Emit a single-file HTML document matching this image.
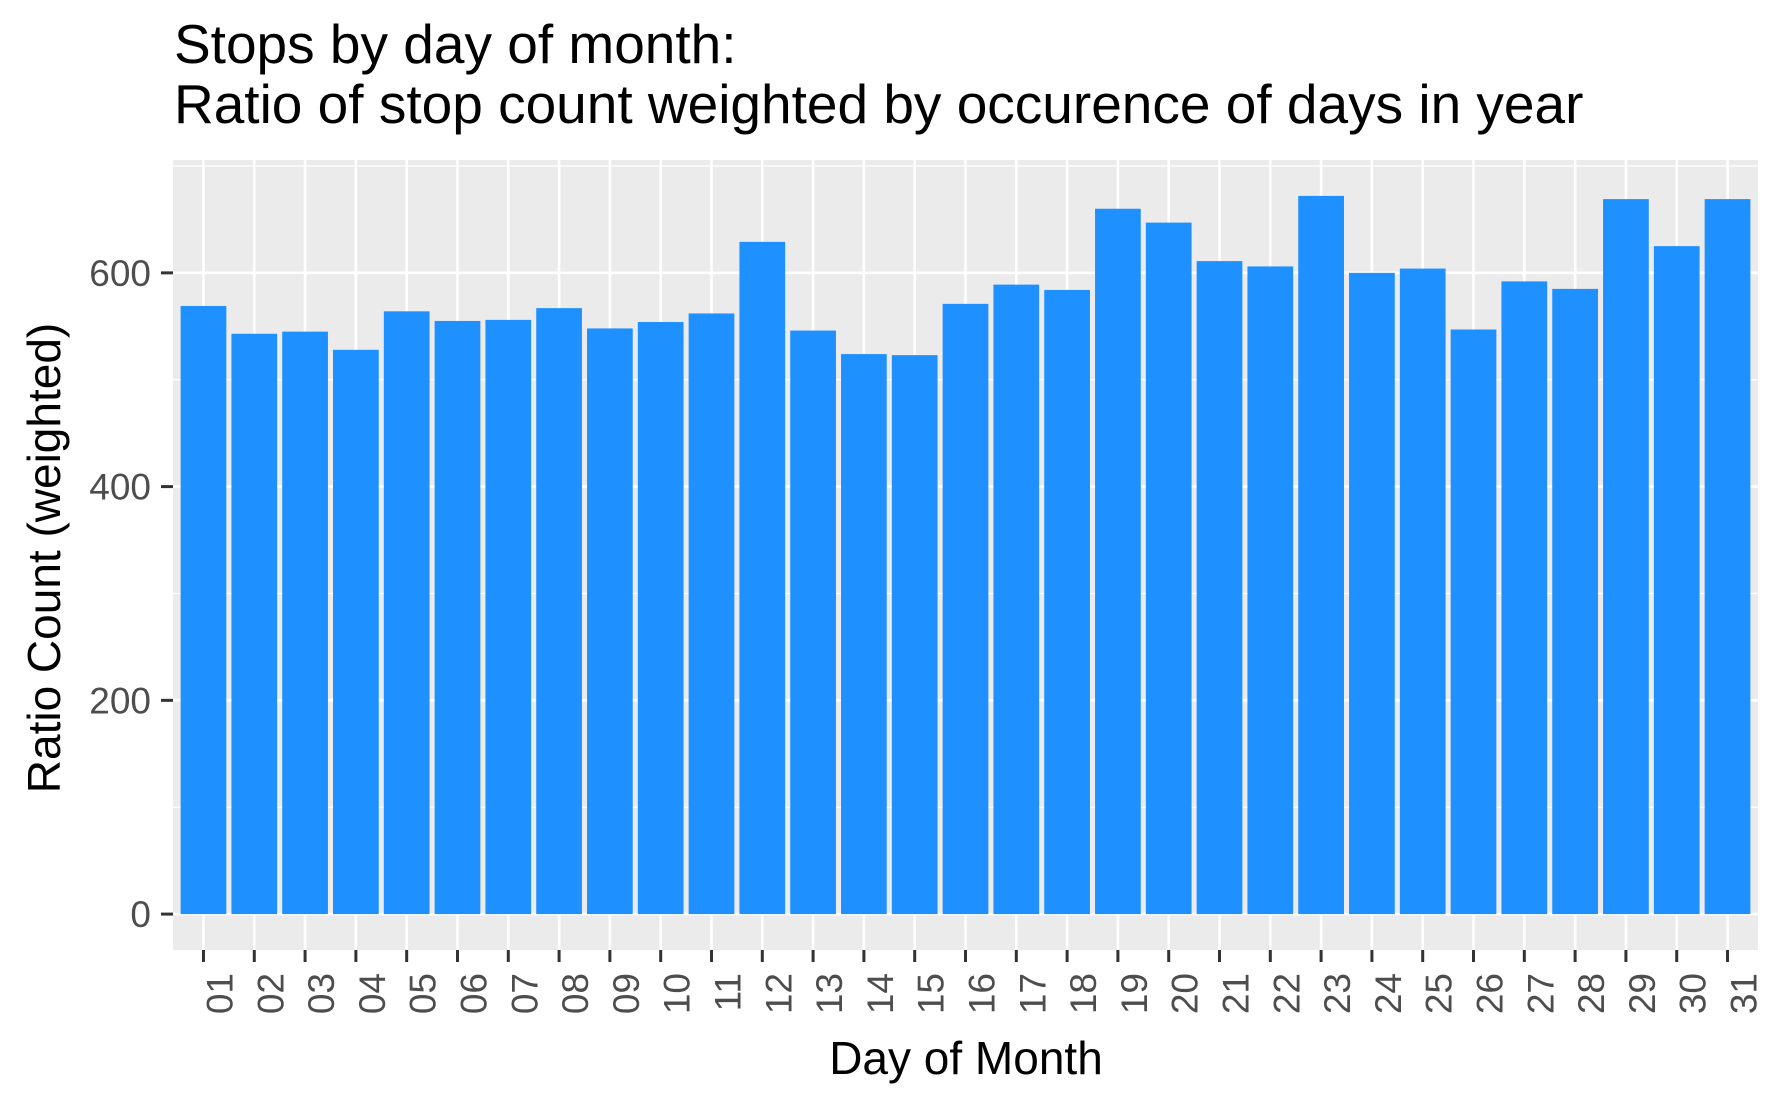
<!DOCTYPE html>
<html><head><meta charset="utf-8"><style>html,body{margin:0;padding:0;background:#fff}svg{display:block}</style></head>
<body>
<svg id="chart" width="1781" height="1103" xmlns="http://www.w3.org/2000/svg" font-family="Liberation Sans, sans-serif">
<text x="174" y="63" font-size="55" fill="#000">Stops by day of month:</text>
<text x="174" y="123" font-size="55" fill="#000">Ratio of stop count weighted by occurence of days in year</text>
<rect x="173" y="160" width="1585" height="790" fill="#ebebeb"/>
<g id="grid"></g><g id="bars"></g><g id="axes"></g>
<text x="966" y="1074" font-size="46" text-anchor="middle" fill="#000">Day of Month</text>
<text transform="translate(60,558) rotate(-90)" font-size="46" text-anchor="middle" fill="#000">Ratio Count (weighted)</text>
</svg>
<script>
const categories = ["01","02","03","04","05","06","07","08","09","10","11","12","13","14","15","16","17","18","19","20","21","22","23","24","25","26","27","28","29","30","31"];
const values = [569,543,545,528,564,555,556,567,548,554,562,629,546,524,523,571,589,584,660,647,611,606,672,600,604,547,592,585,669,625,669];
const yTicks = [0,200,400,600];
const yMinor = [100,300,500,700];
const NS = "http://www.w3.org/2000/svg";
const L = 173, R = 1758, T = 160, B = 950;
const yMax = Math.max(...values);
const y0 = -0.05 * yMax, y1 = yMax * 1.05;
const y = v => B - (v - y0) / (y1 - y0) * (B - T);
const step = (R - L) / (categories.length + 0.2);
const x = i => L + (i + 0.6) * step;
function mk(tag, attrs, parent) { const e = document.createElementNS(NS, tag); for (const k in attrs) e.setAttribute(k, attrs[k]); parent.appendChild(e); return e; }
const grid = document.getElementById('grid'), bars = document.getElementById('bars'), axes = document.getElementById('axes');
yMinor.forEach(v => { if (y(v) < T) return; const l = mk('line', {x1: L, x2: R, y1: y(v), y2: y(v), stroke: '#fff', 'stroke-width': 1.3}, grid);

 });
yTicks.forEach(v => { const l = mk('line', {x1: L, x2: R, y1: y(v), y2: y(v), stroke: '#fff', 'stroke-width': 2.6}, grid);


const t = mk('line', {x1: L - 12, x2: L, y1: y(v), y2: y(v), stroke: '#333', 'stroke-width': 3}, axes);


const tx = mk('text', {x: L - 22, y: y(v) + 13, 'font-size': 37, 'text-anchor': 'end', fill: '#4d4d4d'}, axes);
tx.textContent = v;

 });
categories.forEach((c, i) => { const cx = x(i);
const g = mk('line', {x1: cx, x2: cx, y1: T, y2: B, stroke: '#fff', 'stroke-width': 2.6}, grid);


const w = step * 0.9;
const b = mk('rect', {x: cx - w / 2, y: y(values[i]), width: w, height: y(0) - y(values[i]), fill: '#1e90ff'}, bars);


const t = mk('line', {x1: cx, x2: cx, y1: B, y2: B + 12, stroke: '#333', 'stroke-width': 3}, axes);


const tx = mk('text', {transform: 'translate(' + (cx + 29) + ',973) rotate(-90)', 'font-size': 37, 'text-anchor': 'end', fill: '#4d4d4d'}, axes);
tx.textContent = c;

 });
</script>
</body></html>
